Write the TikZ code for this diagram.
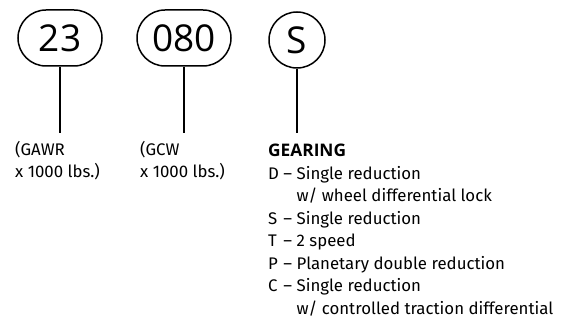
\documentclass[tikz,border=0pt]{standalone}
\usepackage{fontspec}
\setmainfont{Fira Sans}
\newfontfamily\numfont{Open Sans}
\usetikzlibrary{shapes.misc,positioning}

\tikzset{
  codebox/.style={draw,line width=1.5pt,rounded rectangle,minimum height=56pt,
    inner sep=0pt,font=\numfont\fontsize{37}{40}\selectfont},
  codecircle/.style={draw,line width=1.5pt,circle,minimum size=56pt,
    inner sep=0pt,font=\numfont\fontsize{37}{40}\selectfont},
  stem/.style={line width=1.5pt},
  legend/.style={font=\fontsize{16.8}{22.5}\selectfont,align=left,
    inner sep=0pt,anchor=north west}
}

\begin{document}
\begin{tikzpicture}[x=1pt,y=-1pt]
  \useasboundingbox (0,0) rectangle (573,328);

  % ---- Code fields ------------------------------------------
  \node[codebox,minimum width=84pt] (n23)  at (60,38)  {23};
  \node[codebox,minimum width=94pt] (n080) at (184,38) {080};
  \node[codecircle]                 (nS)   at (297,40) {S};

  % ---- Stems ------------------------------------------------
  \coordinate (e23)  at (60,133);
  \coordinate (e080) at (184,133);
  \coordinate (eS)   at (297,133);
  \draw[stem] (n23)  -- (e23);
  \draw[stem] (n080) -- (e080);
  \draw[stem] (nS)   -- (eS);

  % ---- Legends ----------------------------------------------
  \node[legend] (gawr) at (15,141) {(GAWR\\x 1000 lbs.)};
  \node[legend] (gcw)  at (140,141) {(GCW\\x 1000 lbs.)};

  % Gearing codes
  \node[legend] (gearing) at (268,141) {%
    \begin{tabular}{@{}l@{~}l@{~}l@{}}
      \multicolumn{3}{@{}l}{\numfont\bfseries\fontsize{17.3}{22.5}\selectfont GEARING}\\
      D & – & Single reduction\\
        &   & w/ wheel differential lock\\
      S & – & Single reduction\\
      T & – & 2 speed\\
      P & – & Planetary double reduction\\
      C & – & Single reduction\\
        &   & w/ controlled traction differential
    \end{tabular}};

\end{tikzpicture}
\end{document}
